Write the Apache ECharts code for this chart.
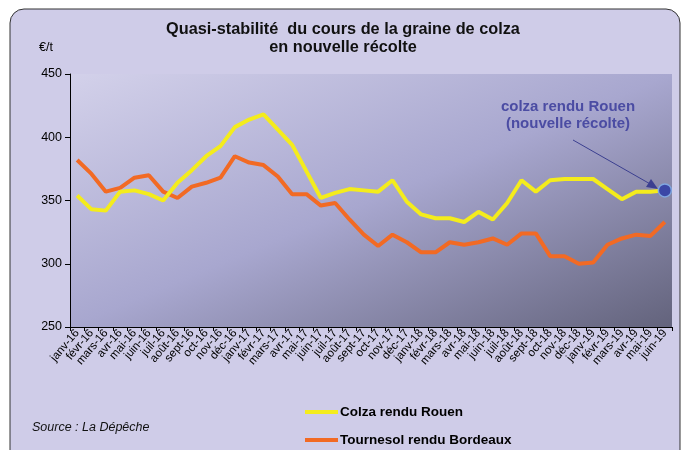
<!DOCTYPE html>
<html>
<head>
<meta charset="utf-8">
<script src="https://cdn.jsdelivr.net/npm/echarts@6/dist/echarts.min.js"></script>
<style>
  html, body { margin: 0; padding: 0; background: #fff; }
  #main { width: 686px; height: 450px; }
</style>
</head>
<body>
<div id="main"></div>
<script>
const months = [
  "janv-16", "févr-16", "mars-16", "avr-16", "mai-16", "juin-16", "juil-16", "août-16", "sept-16", "oct-16", "nov-16", "déc-16",
  "janv-17", "févr-17", "mars-17", "avr-17", "mai-17", "juin-17", "juil-17", "août-17", "sept-17", "oct-17", "nov-17", "déc-17",
  "janv-18", "févr-18", "mars-18", "avr-18", "mai-18", "juin-18", "juil-18", "août-18", "sept-18", "oct-18", "nov-18", "déc-18",
  "janv-19", "févr-19", "mars-19", "avr-19", "mai-19", "juin-19"
];
const colza = [
  354, 343, 342, 357, 358, 355, 350, 364, 374, 385, 393, 408,
  414, 418, 406, 394, 373, 352, 356, 359, 358, 357, 366, 349,
  339, 336, 336, 333, 341, 335, 348, 366, 357, 366, 367, 367,
  367, 359, 351, 357, 357, 358
];
const tournesol = [
  382, 371, 357, 360, 368, 370, 357, 352, 361, 364, 368, 385,
  380, 378, 369, 355, 355, 346, 348, 335, 323, 314, 323, 317,
  309, 309, 317, 315, 317, 320, 315, 324, 324, 306, 306, 300,
  301, 315, 320, 323, 322, 333
];
const yTicks = [250, 300, 350, 400, 450];

let myChart = echarts.init(document.getElementById("main"));

// dernier point colza mis en évidence
let colzaData = colza.map((v, i) => {
  if (i === colza.length - 1) {
    return {
      value: v,
      symbol: "circle",
      symbolSize: 13,
      itemStyle: { color: "#3b47a6", borderColor: "#7fa6e0", borderWidth: 1.5 },
    };
  }
  return v;
});

let legendText = { fontSize: 13.5, fontWeight: "bold", color: "#000", padding: [0, 0, 0, -3] };

let option = {
  backgroundColor: "#fff",
  animation: false,
  textStyle: { fontFamily: "Liberation Sans, Arial, sans-serif" },
  title: {
    text: "Quasi-stabilité  du cours de la graine de colza\nen nouvelle récolte",
    left: "center",
    top: 16,
    textStyle: { fontSize: 16.3, fontWeight: "bold", color: "#111", lineHeight: 18 },
  },
  legend: [
    {
      left: 300,
      top: 400,
      itemWidth: 33,
      itemHeight: 4,
      icon: "rect",
      textStyle: legendText,
      data: ["Colza rendu Rouen"],
    },
    {
      left: 300,
      top: 428,
      itemWidth: 33,
      itemHeight: 4,
      icon: "rect",
      textStyle: legendText,
      data: ["Tournesol rendu Bordeaux"],
    },
  ],
  grid: {
    left: 70,
    right: 14,
    top: 74,
    bottom: 123,
    show: true,
    borderWidth: 0,
    //dégradé du fond, diagonale
    backgroundColor: new echarts.graphic.LinearGradient(0.35, -0.35, 0.65, 1.35, [
      { offset: 0, color: "#d3d1ea" },
      { offset: 0.5, color: "#a8a7cf" },
      { offset: 1, color: "#63637c" },
    ]),
  },
  xAxis: {
    type: "category",
    data: months,
    boundaryGap: true,
    axisLine: { lineStyle: { color: "#000", width: 1 } },
    axisTick: { show: true, interval: 0, length: 4, lineStyle: { color: "#000" } },
    axisLabel: { interval: 0, rotate: 50, fontSize: 11.5, color: "#000", margin: 4 },
  },
  yAxis: {
    type: "value",
    min: yTicks[0],
    max: yTicks[yTicks.length - 1],
    interval: 50,
    splitLine: { show: false },
    axisLine: { show: true, lineStyle: { color: "#000", width: 1 } },
    axisTick: { show: true, length: 5, lineStyle: { color: "#000" } },
    axisLabel: { fontSize: 12.5, color: "#000", margin: 8 },
  },
  series: [
    {
      name: "Colza rendu Rouen",
      type: "line",
      data: colzaData,
      symbol: "none",
      lineStyle: { color: "#f4ec1c", width: 4 },
      itemStyle: { color: "#f4ec1c" },
      z: 3,
    },
    {
      name: "Tournesol rendu Bordeaux",
      type: "line",
      data: tournesol,
      symbol: "none",
      lineStyle: { color: "#f26a24", width: 4 },
      itemStyle: { color: "#f26a24" },
      z: 2,
    },
  ],
  graphic: [
    {
      type: "rect",
      z: -10,
      shape: { x: 10, y: 9, width: 670, height: 470, r: 14 },
      style: { fill: "#cfcce8", stroke: "#333", lineWidth: 1 },
    },
    {
      type: "text",
      left: 39,
      top: 41,
      style: { text: "€/t", fontSize: 12.5, fill: "#000", fontFamily: "Liberation Sans" },
    },
    {
      type: "text",
      left: 32,
      top: 421,
      style: { text: "Source : La Dépêche", fontSize: 12.5, fontStyle: "italic", fill: "#111", fontFamily: "Liberation Sans" },
    },
    {
      type: "text",
      x: 568,
      y: 98,
      style: {
        text: "colza rendu Rouen\n(nouvelle récolte)",
        align: "center",
        fontSize: 15,
        fontWeight: "bold",
        lineHeight: 17,
        fill: "#4b4ca3",
        fontFamily: "Liberation Sans",
      },
    },
    {
      type: "line",
      shape: { x1: 573, y1: 140, x2: 652, y2: 185 },
      style: { stroke: "#3b3f90", lineWidth: 1 },
    },
    {
      type: "polygon",
      shape: { points: [[658, 189], [646, 187], [651, 179]] },
      style: { fill: "#3b3f90" },
    },
  ],
};
myChart.setOption(option);
</script>
</body>
</html>
